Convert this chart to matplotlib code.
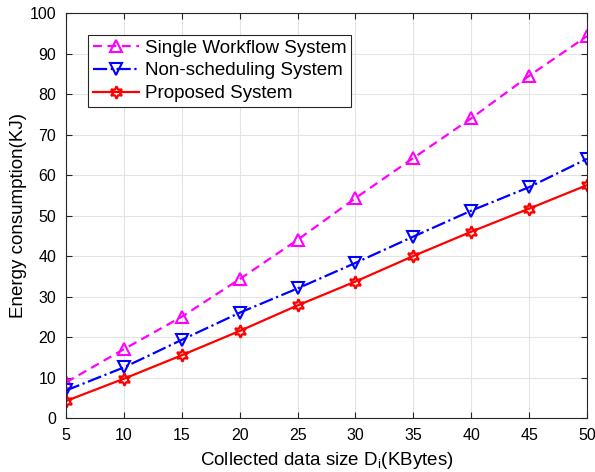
import matplotlib
matplotlib.use("Agg")
import matplotlib.pyplot as plt

plt.rcParams['font.family'] = ['Liberation Sans', 'DejaVu Sans']

# data sizes (KBytes)
x = [5, 10, 15, 20, 25, 30, 35, 40, 45, 50]
single = [8.8, 17.0, 25.0, 34.3, 44.0, 54.3, 64.2, 74.0, 84.5, 94.3]
nonsched = [6.8, 12.5, 19.3, 26.0, 32.0, 38.3, 44.8, 51.2, 57.0, 64.0]
proposed = [4.2, 9.7, 15.5, 21.5, 27.8, 33.7, 40.0, 46.0, 51.7, 57.5]

fig = plt.figure(figsize=(5.95, 4.72), dpi=100)
ax = fig.add_axes([0.111, 0.1144, 0.8756, 0.858])

ax.plot(x, single, '--', color='#ff00ff', lw=1.6, marker='^', ms=9,
        mfc='none', mew=1.5, label='Single Workflow System', dashes=(4, 2.5))
ax.plot(x, nonsched, '-.', color='#0000ff', lw=1.6, marker='v', ms=9,
        mfc='none', mew=1.5, label='Non-scheduling System')
ax.plot(x, proposed, '-', color='#ff0000', lw=1.6, marker=(6, 1, 0), ms=9,
        mfc='none', mew=1.6, label='Proposed System')

ax.set_xlim(5, 50)
ax.set_ylim(0, 100)
ax.set_xticks(range(5, 51, 5))
ax.set_yticks(range(0, 101, 10))
ax.grid(True, color='#e3e3e3', lw=0.8)
ax.set_axisbelow(True)
ax.tick_params(direction='in', labelsize=11.5, top=True, right=True, length=4,
               color='#262626', pad=7)
for s in ax.spines.values():
    s.set_color('#262626')
    s.set_linewidth(0.8)

ax.set_xlabel('Collected data size D$_\\mathregular{i}$(KBytes)', fontsize=13.5,
              labelpad=5)
ax.set_ylabel('Energy consumption(KJ)', fontsize=13.5, labelpad=2)

leg = ax.legend(loc='upper left', bbox_to_anchor=(0.042, 0.946), fontsize=13.5,
                fancybox=False, framealpha=1, edgecolor='#262626',
                borderaxespad=0, handlelength=2.5, borderpad=0.25,
                labelspacing=0.3, handletextpad=0.3)
leg.get_frame().set_linewidth(0.8)

fig.savefig('out.png', dpi=100)
